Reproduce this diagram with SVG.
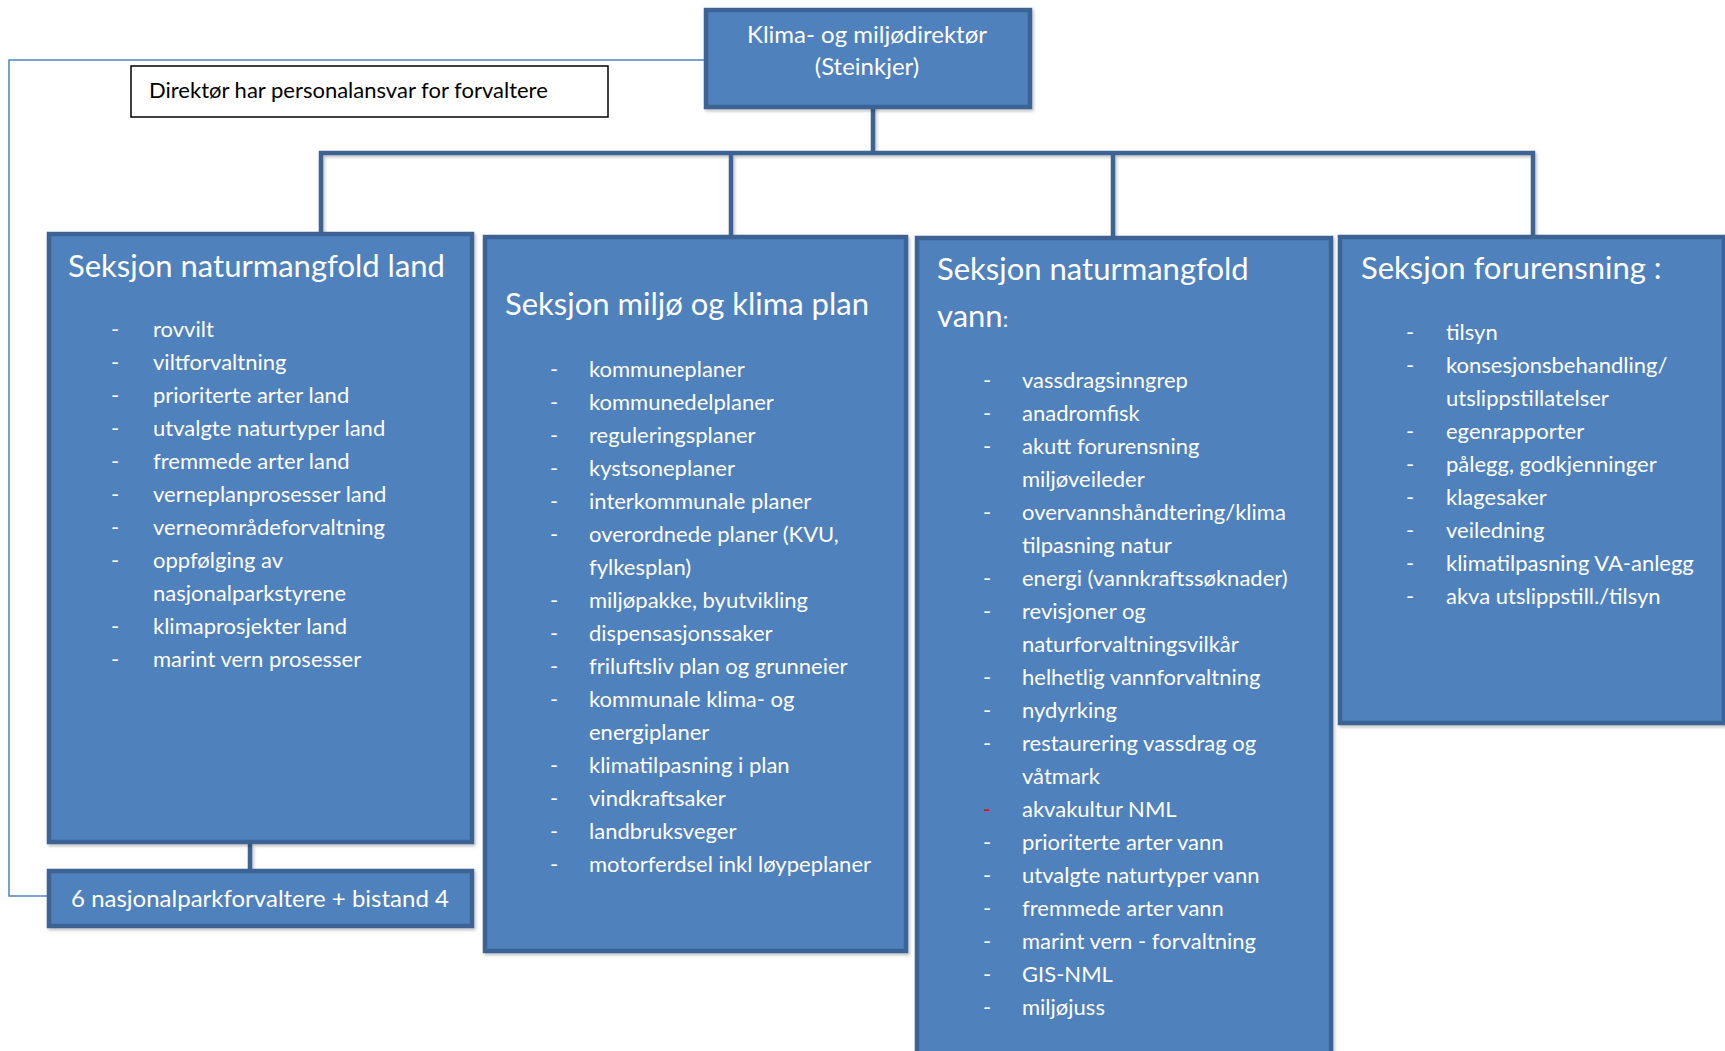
<svg xmlns="http://www.w3.org/2000/svg" width="1725" height="1051" viewBox="0 0 1725 1051">
<style>
.box{fill:#4f81bd;stroke:#3c6494;stroke-width:4.5}
.t{font-family:Lato,"Liberation Sans",sans-serif;fill:#ffffff}
.title{font-size:31px}
.item{font-size:22px}
.head{font-size:24px}
.conn{stroke:#3c6494;stroke-width:4.5;fill:none}
.thin{stroke:#4f81bd;stroke-width:1.5;fill:none}
.red{fill:#ff0000}
</style>
<defs>
<filter id="sh" x="-10%" y="-10%" width="130%" height="130%">
<feDropShadow dx="1.5" dy="2" stdDeviation="1.5" flood-color="#000" flood-opacity="0.25"/>
</filter>
</defs>
<rect width="1725" height="1051" fill="#ffffff"/>
<g id="connectors">
<polyline class="thin" points="704,60 9,60 9,896 55,896"/>
<g filter="url(#sh)">
<line class="conn" x1="873" y1="97" x2="873" y2="153"/>
<polyline class="conn" points="321,233 321,153 1533,153 1533,235"/>
<line class="conn" x1="731" y1="153" x2="731" y2="235"/>
<line class="conn" x1="1113" y1="153" x2="1113" y2="237"/>
<line class="conn" x1="250" y1="844" x2="250" y2="869"/>
</g>
</g>
<g id="director">
<rect class="box" x="706" y="10" width="324" height="97" filter="url(#sh)"/>
<text class="t head" x="867" y="43" text-anchor="middle">Klima- og miljødirektør</text>
<text class="t head" x="867" y="75" text-anchor="middle">(Steinkjer)</text>
</g>
<g id="note">
<rect x="131" y="66" width="477" height="51" fill="#ffffff" stroke="#000000" stroke-width="1.5"/>
<text x="149" y="98" font-family="Lato,'Liberation Sans',sans-serif" font-size="22" fill="#000000">Direktør har personalansvar for forvaltere</text>
</g>
<g id="sek-land">
<rect class="box" x="49" y="234" width="423" height="608" filter="url(#sh)"/>
<text class="t title" x="68" y="277">Seksjon naturmangfold land</text>
<g class="t item">
<text x="111" y="337">-</text><text x="153" y="337">rovvilt</text>
<text x="111" y="370">-</text><text x="153" y="370">viltforvaltning</text>
<text x="111" y="403">-</text><text x="153" y="403">prioriterte arter land</text>
<text x="111" y="436">-</text><text x="153" y="436">utvalgte naturtyper land</text>
<text x="111" y="469">-</text><text x="153" y="469">fremmede arter land</text>
<text x="111" y="502">-</text><text x="153" y="502">verneplanprosesser land</text>
<text x="111" y="535">-</text><text x="153" y="535">verneområdeforvaltning</text>
<text x="111" y="568">-</text><text x="153" y="568">oppfølging av</text>
<text x="153" y="601">nasjonalparkstyrene</text>
<text x="111" y="634">-</text><text x="153" y="634">klimaprosjekter land</text>
<text x="111" y="667">-</text><text x="153" y="667">marint vern prosesser</text>
</g>
</g>
<g id="nasjonalpark">
<rect class="box" x="49" y="871" width="423" height="55" filter="url(#sh)"/>
<text class="t" x="260" y="907" font-size="24" text-anchor="middle">6 nasjonalparkforvaltere + bistand 4</text>
</g>
<g id="sek-plan">
<rect class="box" x="485" y="237" width="421" height="714" filter="url(#sh)"/>
<text class="t title" x="505" y="315">Seksjon miljø og klima plan</text>
<g class="t item">
<text x="550" y="377">-</text><text x="589" y="377">kommuneplaner</text>
<text x="550" y="410">-</text><text x="589" y="410">kommunedelplaner</text>
<text x="550" y="443">-</text><text x="589" y="443">reguleringsplaner</text>
<text x="550" y="476">-</text><text x="589" y="476">kystsoneplaner</text>
<text x="550" y="509">-</text><text x="589" y="509">interkommunale planer</text>
<text x="550" y="542">-</text><text x="589" y="542">overordnede planer (KVU,</text>
<text x="589" y="575">fylkesplan)</text>
<text x="550" y="608">-</text><text x="589" y="608">miljøpakke, byutvikling</text>
<text x="550" y="641">-</text><text x="589" y="641">dispensasjonssaker</text>
<text x="550" y="674">-</text><text x="589" y="674">friluftsliv plan og grunneier</text>
<text x="550" y="707">-</text><text x="589" y="707">kommunale klima- og</text>
<text x="589" y="740">energiplaner</text>
<text x="550" y="773">-</text><text x="589" y="773">klimatilpasning i plan</text>
<text x="550" y="806">-</text><text x="589" y="806">vindkraftsaker</text>
<text x="550" y="839">-</text><text x="589" y="839">landbruksveger</text>
<text x="550" y="872">-</text><text x="589" y="872">motorferdsel inkl løypeplaner</text>
</g>
</g>
<g id="sek-vann">
<rect class="box" x="917" y="238" width="414" height="830" filter="url(#sh)"/>
<text class="t title" x="937" y="280">Seksjon naturmangfold</text>
<text class="t title" x="937" y="327">vann<tspan font-size="22">:</tspan></text>
<g class="t item">
<text x="983" y="388">-</text><text x="1022" y="388">vassdragsinngrep</text>
<text x="983" y="421">-</text><text x="1022" y="421">anadromfisk</text>
<text x="983" y="454">-</text><text x="1022" y="454">akutt forurensning</text>
<text x="1022" y="487">miljøveileder</text>
<text x="983" y="520">-</text><text x="1022" y="520">overvannshåndtering/klima</text>
<text x="1022" y="553">tilpasning natur</text>
<text x="983" y="586">-</text><text x="1022" y="586">energi (vannkraftssøknader)</text>
<text x="983" y="619">-</text><text x="1022" y="619">revisjoner og</text>
<text x="1022" y="652">naturforvaltningsvilkår</text>
<text x="983" y="685">-</text><text x="1022" y="685">helhetlig vannforvaltning</text>
<text x="983" y="718">-</text><text x="1022" y="718">nydyrking</text>
<text x="983" y="751">-</text><text x="1022" y="751">restaurering vassdrag og</text>
<text x="1022" y="784">våtmark</text>
<text class="red" x="983" y="817">-</text><text x="1022" y="817">akvakultur NML</text>
<text x="983" y="850">-</text><text x="1022" y="850">prioriterte arter vann</text>
<text x="983" y="883">-</text><text x="1022" y="883">utvalgte naturtyper vann</text>
<text x="983" y="916">-</text><text x="1022" y="916">fremmede arter vann</text>
<text x="983" y="949">-</text><text x="1022" y="949">marint vern - forvaltning</text>
<text x="983" y="982">-</text><text x="1022" y="982">GIS-NML</text>
<text x="983" y="1015">-</text><text x="1022" y="1015">miljøjuss</text>
</g>
</g>
<g id="sek-forurensning">
<rect class="box" x="1340" y="237" width="384" height="486" filter="url(#sh)"/>
<text class="t title" x="1361" y="279">Seksjon forurensning :</text>
<g class="t item">
<text x="1406" y="340">-</text><text x="1446" y="340">tilsyn</text>
<text x="1406" y="373">-</text><text x="1446" y="373">konsesjonsbehandling/</text>
<text x="1446" y="406">utslippstillatelser</text>
<text x="1406" y="439">-</text><text x="1446" y="439">egenrapporter</text>
<text x="1406" y="472">-</text><text x="1446" y="472">pålegg, godkjenninger</text>
<text x="1406" y="505">-</text><text x="1446" y="505">klagesaker</text>
<text x="1406" y="538">-</text><text x="1446" y="538">veiledning</text>
<text x="1406" y="571">-</text><text x="1446" y="571">klimatilpasning VA-anlegg</text>
<text x="1406" y="604">-</text><text x="1446" y="604">akva utslippstill./tilsyn</text>
</g>
</g>
</svg>
